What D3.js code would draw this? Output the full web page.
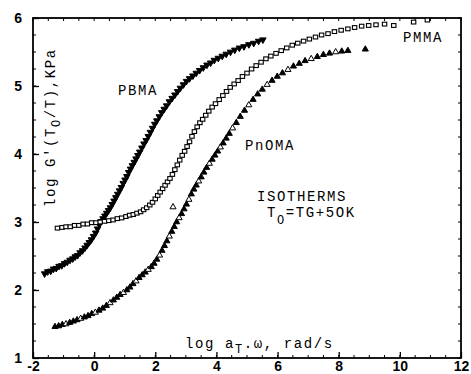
<!DOCTYPE html>
<html>
<head>
<meta charset="utf-8">
<script src="https://cdn.jsdelivr.net/npm/d3@7"></script>
<style>
  body { margin: 0; background: #fff; }
  .tick-label text { font-family: "Liberation Sans", Arial, sans-serif; font-size: 14px; font-weight: bold; fill: #000; }
  .mono { font-family: "Liberation Mono", "Courier New", monospace; fill: #000; }
</style>
</head>
<body>
<div id="chart"></div>
<script>
// x = log aT.w (rad/s), y = log G'(To/T) (KPa)
const PBMA_X = [-1.62, -1.52, -1.42, -1.33, -1.24, -1.15, -1.06, -0.97, -0.88, -0.79, -0.70, -0.62, -0.54, -0.46, -0.38, -0.30, -0.23, -0.16, -0.09, -0.02, 0.05, 0.11, 0.17, 0.23, 0.29, 0.35, 0.41, 0.47, 0.53, 0.59, 0.65, 0.71, 0.77, 0.83, 0.89, 0.95, 1.01, 1.07, 1.13, 1.19, 1.25, 1.31, 1.37, 1.43, 1.49, 1.56, 1.63, 1.70, 1.77, 1.84, 1.91, 1.98, 2.05, 2.13, 2.21, 2.29, 2.37, 2.46, 2.55, 2.64, 2.73, 2.82, 2.92, 3.02, 3.12, 3.23, 3.34, 3.45, 3.57, 3.69, 3.81, 3.93, 4.06, 4.19, 4.32, 4.46, 4.60, 4.75, 4.90, 5.06, 5.22, 5.38, 5.52];
const PBMA_Y = [2.24, 2.27, 2.28, 2.31, 2.32, 2.35, 2.36, 2.39, 2.41, 2.44, 2.46, 2.49, 2.51, 2.55, 2.58, 2.62, 2.66, 2.70, 2.74, 2.79, 2.84, 2.90, 2.96, 3.01, 3.05, 3.09, 3.13, 3.17, 3.21, 3.26, 3.31, 3.36, 3.41, 3.46, 3.51, 3.57, 3.62, 3.67, 3.73, 3.78, 3.83, 3.88, 3.93, 3.98, 4.03, 4.09, 4.15, 4.20, 4.26, 4.32, 4.38, 4.44, 4.49, 4.55, 4.61, 4.66, 4.71, 4.77, 4.82, 4.87, 4.92, 4.97, 5.02, 5.07, 5.11, 5.15, 5.19, 5.23, 5.27, 5.31, 5.34, 5.38, 5.41, 5.44, 5.47, 5.50, 5.53, 5.56, 5.58, 5.61, 5.63, 5.66, 5.68];

const PMMA_X = [-1.20, -1.05, -0.92, -0.78, -0.64, -0.50, -0.36, -0.22, -0.08, 0.06, 0.20, 0.34, 0.48, 0.62, 0.76, 0.90, 1.04, 1.16, 1.28, 1.40, 1.52, 1.62, 1.72, 1.82, 1.91, 2.00, 2.08, 2.16, 2.24, 2.32, 2.40, 2.48, 2.56, 2.64, 2.72, 2.80, 2.88, 2.96, 3.04, 3.12, 3.20, 3.28, 3.37, 3.46, 3.55, 3.65, 3.75, 3.86, 3.97, 4.09, 4.21, 4.33, 4.45, 4.58, 4.71, 4.85, 5.00, 5.15, 5.30, 5.46, 5.62, 5.78, 5.95, 6.12, 6.30, 6.48, 6.66, 6.85, 7.04, 7.24, 7.44, 7.65, 7.86, 8.08, 8.30, 8.52, 8.75, 8.98, 9.22, 9.50, 9.80, 10.45, 10.90];
const PMMA_Y = [2.91, 2.92, 2.93, 2.93, 2.95, 2.95, 2.97, 2.97, 2.99, 2.99, 3.00, 3.01, 3.02, 3.03, 3.05, 3.06, 3.08, 3.10, 3.11, 3.13, 3.15, 3.18, 3.21, 3.25, 3.29, 3.34, 3.39, 3.44, 3.49, 3.54, 3.59, 3.64, 3.70, 3.77, 3.84, 3.91, 3.98, 4.04, 4.11, 4.18, 4.26, 4.33, 4.40, 4.46, 4.51, 4.57, 4.63, 4.69, 4.74, 4.80, 4.86, 4.92, 4.98, 5.03, 5.08, 5.14, 5.19, 5.25, 5.30, 5.35, 5.40, 5.44, 5.48, 5.52, 5.56, 5.60, 5.63, 5.66, 5.69, 5.72, 5.75, 5.77, 5.80, 5.82, 5.84, 5.86, 5.88, 5.89, 5.90, 5.91, 5.89, 5.94, 5.97];

const PNOMA_X = [-1.28, -1.16, -1.04, -0.92, -0.80, -0.68, -0.56, -0.44, -0.32, -0.20, -0.08, 0.04, 0.16, 0.28, 0.40, 0.52, 0.63, 0.74, 0.85, 0.96, 1.07, 1.17, 1.27, 1.37, 1.47, 1.57, 1.67, 1.77, 1.87, 1.96, 2.05, 2.14, 2.22, 2.30, 2.38, 2.46, 2.54, 2.62, 2.70, 2.78, 2.86, 2.94, 3.02, 3.10, 3.18, 3.26, 3.34, 3.42, 3.50, 3.59, 3.68, 3.77, 3.86, 3.95, 4.04, 4.13, 4.22, 4.32, 4.42, 4.53, 4.65, 4.78, 4.92, 5.06, 5.20, 5.35, 5.50, 5.66, 5.82, 5.99, 6.16, 6.34, 6.52, 6.71, 6.90, 7.10, 7.30, 7.50, 7.70, 7.90, 8.10, 8.30, 8.87, 2.58];
const PNOMA_Y = [1.46, 1.47, 1.49, 1.50, 1.52, 1.54, 1.56, 1.58, 1.60, 1.62, 1.65, 1.67, 1.70, 1.73, 1.77, 1.81, 1.85, 1.89, 1.93, 1.96, 2.00, 2.04, 2.09, 2.13, 2.18, 2.22, 2.26, 2.30, 2.34, 2.39, 2.45, 2.51, 2.58, 2.65, 2.72, 2.79, 2.86, 2.93, 3.00, 3.06, 3.12, 3.19, 3.26, 3.33, 3.41, 3.48, 3.54, 3.60, 3.66, 3.73, 3.80, 3.86, 3.92, 3.98, 4.04, 4.10, 4.16, 4.23, 4.30, 4.38, 4.46, 4.55, 4.64, 4.72, 4.80, 4.88, 4.95, 5.02, 5.08, 5.14, 5.19, 5.24, 5.29, 5.33, 5.37, 5.40, 5.43, 5.46, 5.48, 5.50, 5.51, 5.52, 5.54, 3.22];

const X_TICKS = [-2, 0, 2, 4, 6, 8, 10, 12];
const Y_TICKS = [1, 2, 3, 4, 5, 6];

function drawChart() {
    const W = 471, H = 374;
    const margin = { left: 33, right: 10, top: 18, bottom: 16 };
    const width = W - margin.left - margin.right;
    const height = H - margin.top - margin.bottom;

    const svg = d3.select("#chart").append("svg")
        .attr("width", W).attr("height", H);
    const g = svg.append("g").attr("transform", `translate(${margin.left},${margin.top})`);

    const x = d3.scaleLinear().domain([-2, 12]).range([0, width]);
    const y = d3.scaleLinear().domain([1, 6]).range([height, 0]);

    // minor ticks, all four sides
    const xMinor = d3.range(-2, 12.01, 0.5);
    const yMinor = d3.range(1, 6.01, 0.25);
    const minor = g.append("g").attr("stroke", "#000").attr("stroke-width", 1);
    xMinor.forEach(v => {
        minor.append("line").attr("x1", x(v)).attr("x2", x(v)).attr("y1", height).attr("y2", height - 3);
        minor.append("line").attr("x1", x(v)).attr("x2", x(v)).attr("y1", 0).attr("y2", 3);
    });
    yMinor.forEach(v => {
        minor.append("line").attr("x1", 0).attr("x2", 3).attr("y1", y(v)).attr("y2", y(v));
        minor.append("line").attr("x1", width).attr("x2", width - 3).attr("y1", y(v)).attr("y2", y(v));
    });

    // major axes with labels
    g.append("g").attr("class", "tick-label")
        .attr("transform", `translate(0,${height})`)
        .call(d3.axisBottom(x).tickValues(X_TICKS).tickSize(-6).tickPadding(4)
            .tickFormat(d => d < 0 ? "-" + Math.abs(d) : d))
        .call(a => a.select(".domain").remove())
        .call(a => a.selectAll("line").attr("stroke-width", 1.3))
        .call(a => a.selectAll("text").attr("dy", "0.65em"));

    g.append("g").attr("class", "tick-label")
        .call(d3.axisLeft(y).tickValues(Y_TICKS).tickSize(-6).tickPadding(11).tickFormat(d3.format("d")))
        .call(a => a.select(".domain").remove())
        .call(a => a.selectAll("line").attr("stroke-width", 1.3));

    // frame
    g.append("rect").attr("width", width).attr("height", height)
        .attr("fill", "none").attr("stroke", "#000").attr("stroke-width", 1.8);

    const plot = g.append("g");
    const triDown = d3.symbol().type(d3.symbolTriangle).size(18);
    const triUp = d3.symbol().type(d3.symbolTriangle).size(16);

    // PBMA: filled downward triangles
    plot.selectAll(".pbma").data(d3.zip(PBMA_X, PBMA_Y)).enter().append("path")
        .attr("d", triDown)
        .attr("transform", d => `translate(${x(d[0])},${y(d[1])}) rotate(180)`)
        .attr("fill", "#000").attr("stroke", "#000").attr("stroke-width", 1);

    // PnOMA: triangles, mostly filled
    plot.selectAll(".pnoma").data(d3.zip(PNOMA_X, PNOMA_Y)).enter().append("path")
        .attr("d", triUp)
        .attr("transform", d => `translate(${x(d[0])},${y(d[1])})`)
        .attr("fill", (d, i) => i % 4 === 3 ? "#fff" : "#000")
        .attr("stroke", "#000").attr("stroke-width", 1);

    // PMMA: open squares
    plot.selectAll(".pmma").data(d3.zip(PMMA_X, PMMA_Y)).enter().append("rect")
        .attr("x", d => x(d[0]) - 2.2).attr("y", d => y(d[1]) - 1.9)
        .attr("width", 4.4).attr("height", 3.8)
        .attr("fill", "#fff").attr("stroke", "#000").attr("stroke-width", 1.1);

    // labels
    const fs = 14, ls = 1.6;
    const txt = (px, py, s) => svg.append("text").attr("class", "mono")
        .attr("x", px).attr("y", py).attr("font-size", fs).attr("letter-spacing", ls).text(s);
    txt(118, 95, "PBMA");
    txt(403, 42, "PMMA");
    txt(245, 150, "PnOMA");
    txt(257, 201, "ISOTHERMS");

    const t0 = svg.append("text").attr("class", "mono").attr("x", 267).attr("y", 217)
        .attr("font-size", fs).attr("letter-spacing", ls);
    t0.append("tspan").text("T");
    t0.append("tspan").attr("dy", 7).attr("font-size", 12).text("O");
    t0.append("tspan").attr("dy", -7).text("=TG+5OK");

    const xl = svg.append("text").attr("class", "mono").attr("x", 185).attr("y", 348)
        .attr("font-size", fs).attr("letter-spacing", ls);
    xl.append("tspan").text("log a");
    xl.append("tspan").attr("dy", 5).attr("font-size", 12).text("T");
    xl.append("tspan").attr("dy", -5).text(".ω, rad/s");

    const yl = svg.append("text").attr("class", "mono").attr("font-size", fs).attr("letter-spacing", ls)
        .attr("transform", "translate(55,207) rotate(-90)");
    yl.append("tspan").text("log G'(T");
    yl.append("tspan").attr("dy", 5).attr("font-size", 12).text("O");
    yl.append("tspan").attr("dy", -5).text("/T),KPa");
}

window.onload = () => { drawChart(); };
</script>
</body>
</html>
